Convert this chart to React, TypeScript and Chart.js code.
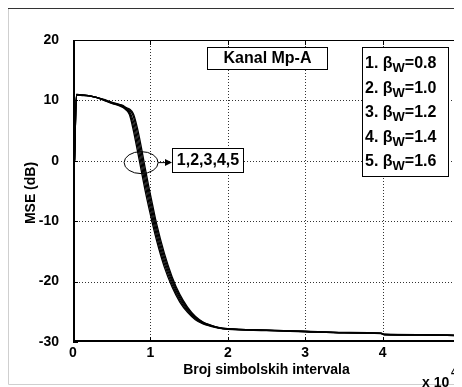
import React, { useEffect, useRef } from "react";
import { Chart, registerables } from "chart.js";

Chart.register(...registerables);

const symbolIntervals = [200, 450, 1000, 2000, 3000, 4000, 5000, 6000, 6500, 6800, 7300, 7800, 8300, 8800, 9300, 9800, 10300, 10800, 11800, 12800, 13800, 14800, 15800, 16800, 17800, 18800, 20000, 25000, 30000, 35000, 39800, 40200, 45000, 50000];

const mseBeta08 = [0, 11.0, 10.9, 10.8, 10.5, 10.0, 9.5, 9.1, 8.8, 8.5, 7.6, 5.0, 1.8, -1.5, -4.8, -7.8, -10.6, -13.2, -17.6, -20.9, -23.4, -25.1, -26.3, -27.0, -27.4, -27.7, -27.9, -28.1, -28.3, -28.5, -28.6, -28.8, -28.85, -28.95];
const mseBeta10 = [0, 11.0, 10.9, 10.8, 10.5, 10.05, 9.55, 9.16, 8.89, 8.59, 7.87, 5.78, 2.76, -0.51, -3.85, -6.93, -9.8, -12.5, -17.02, -20.47, -23.08, -24.88, -26.16, -26.92, -27.35, -27.67, -27.87, -28.08, -28.28, -28.48, -28.58, -28.78, -28.83, -28.93];
const mseBeta12 = [0, 10.95, 10.9, 10.8, 10.5, 10.1, 9.6, 9.22, 8.98, 8.68, 8.14, 6.56, 3.72, 0.48, -2.9, -6.06, -9.0, -11.8, -16.44, -20.04, -22.76, -24.66, -26.02, -26.84, -27.3, -27.64, -27.84, -28.06, -28.26, -28.46, -28.56, -28.76, -28.81, -28.91];
const mseBeta14 = [0, 10.95, 10.85, 10.75, 10.5, 10.1, 9.65, 9.28, 9.07, 8.77, 8.41, 7.34, 4.68, 1.47, -1.95, -5.19, -8.2, -11.1, -15.86, -19.61, -22.44, -24.44, -25.88, -26.76, -27.25, -27.61, -27.81, -28.04, -28.24, -28.44, -28.54, -28.74, -28.8, -28.9];
const mseBeta16 = [0, 10.9, 10.85, 10.75, 10.5, 10.15, 9.7, 9.34, 9.16, 8.86, 8.56, 7.78, 5.52, 2.44, -1.0, -4.32, -7.4, -10.4, -15.28, -19.18, -22.12, -24.22, -25.74, -26.68, -27.2, -27.58, -27.78, -28.02, -28.22, -28.42, -28.52, -28.72, -28.78, -28.88];

const seriesList = [mseBeta08, mseBeta10, mseBeta12, mseBeta14, mseBeta16];
const betaValues = ["0.8", "1.0", "1.2", "1.4", "1.6"];

const xTickValues = [0, 10000, 20000, 30000, 40000, 50000];
const xTickLabels = ["0", "1", "2", "3", "4", "5"];
const yTickValues = [-30, -20, -10, 0, 10, 20];

const channelLabel = "Kanal Mp-A";
const groupLabel = "1,2,3,4,5";
const xTitle = "Broj simbolskih intervala";
const yTitle = "MSE (dB)";
const groupMarkerX = 8800;
const groupMarkerY = -0.3;

const FONT = "'Liberation Sans', Arial, Helvetica, sans-serif";

const overlayPlugin = {
  id: "matlabOverlay",
  beforeDatasetsDraw(chart: any) {
    const { ctx, chartArea } = chart;
    const xs = chart.scales.x;
    const ys = chart.scales.y;
    const { left, right, top, bottom } = chartArea;
    ctx.save();
    ctx.strokeStyle = "#333";
    ctx.lineWidth = 1;
    ctx.setLineDash([1, 2]);
    xTickValues.slice(1, -1).forEach((v) => {
      const px = Math.round(xs.getPixelForValue(v)) + 0.5;
      ctx.beginPath();
      ctx.moveTo(px, top);
      ctx.lineTo(px, bottom);
      ctx.stroke();
    });
    yTickValues.slice(1, -1).forEach((v) => {
      const py = Math.round(ys.getPixelForValue(v)) + 0.5;
      ctx.beginPath();
      ctx.moveTo(left, py);
      ctx.lineTo(right, py);
      ctx.stroke();
    });
    ctx.restore();
  },
  afterDatasetsDraw(chart: any) {
    const { ctx, chartArea, width, height } = chart;
    const xs = chart.scales.x;
    const ys = chart.scales.y;
    const { left, right, top, bottom } = chartArea;
    ctx.save();
    ctx.setLineDash([]);

    // outer figure frame
    ctx.lineWidth = 1;
    ctx.strokeStyle = "#cfcfcf";
    ctx.beginPath();
    ctx.moveTo(0.5, 0);
    ctx.lineTo(0.5, height - 2.5);
    ctx.lineTo(width, height - 2.5);
    ctx.stroke();
    ctx.strokeStyle = "#333";
    ctx.beginPath();
    ctx.moveTo(0, 0.5);
    ctx.lineTo(width, 0.5);
    ctx.stroke();

    // axes box
    ctx.strokeStyle = "#000";
    ctx.lineWidth = 1;
    ctx.strokeRect(left + 0.5, top + 0.5, right - left - 1, bottom - top - 1);
    ctx.lineWidth = 2;
    ctx.beginPath();
    ctx.moveTo(left + 1, top);
    ctx.lineTo(left + 1, bottom - 1);
    ctx.lineTo(right, bottom - 1);
    ctx.stroke();

    // inner tick marks
    ctx.lineWidth = 1;
    xTickValues.forEach((v) => {
      const px = Math.round(xs.getPixelForValue(v)) + 0.5;
      ctx.beginPath();
      ctx.moveTo(px, bottom);
      ctx.lineTo(px, bottom - 5);
      ctx.moveTo(px, top);
      ctx.lineTo(px, top + 5);
      ctx.stroke();
    });
    yTickValues.forEach((v) => {
      const py = Math.round(ys.getPixelForValue(v)) + 0.5;
      ctx.beginPath();
      ctx.moveTo(left, py);
      ctx.lineTo(left + 5, py);
      ctx.moveTo(right, py);
      ctx.lineTo(right - 5, py);
      ctx.stroke();
    });

    // x tick labels
    ctx.fillStyle = "#000";
    ctx.font = `bold 14px ${FONT}`;
    ctx.textAlign = "center";
    ctx.textBaseline = "middle";
    xTickValues.forEach((v, i) => {
      ctx.fillText(xTickLabels[i], xs.getPixelForValue(v), bottom + 11);
    });

    // axis titles
    ctx.font = `bold 14px ${FONT}`;
    ctx.fillText(xTitle, (left + right) / 2, bottom + 28);
    ctx.save();
    ctx.translate(23, (top + bottom) / 2 + 2);
    ctx.rotate(-Math.PI / 2);
    ctx.fillText(yTitle, 0, 0);
    ctx.restore();

    // x 10^4 multiplier
    ctx.textAlign = "left";
    ctx.font = `bold 14px ${FONT}`;
    ctx.fillText("x 10", right - 38, bottom + 41);
    ctx.font = `bold 10px ${FONT}`;
    ctx.fillText("4", right - 9, bottom + 31);

    // Kanal box
    ctx.fillStyle = "#fff";
    ctx.fillRect(left + 134, top + 7, 120, 22);
    ctx.strokeStyle = "#000";
    ctx.lineWidth = 1;
    ctx.strokeRect(left + 134.5, top + 7.5, 120, 22);
    ctx.fillStyle = "#000";
    ctx.font = `bold 16px ${FONT}`;
    ctx.textAlign = "center";
    ctx.fillText(channelLabel, left + 194.5, top + 19);

    // legend box
    const lx = left + 289;
    const ly = top + 7;
    ctx.fillStyle = "#fff";
    ctx.fillRect(lx, ly, 86, 129);
    ctx.strokeRect(lx + 0.5, ly + 0.5, 86, 129);
    ctx.fillStyle = "#000";
    ctx.textAlign = "left";
    ctx.textBaseline = "alphabetic";
    betaValues.forEach((b, i) => {
      const baseY = ly + 21 + i * 24.5;
      let cx = lx + 3;
      ctx.font = `bold 16px ${FONT}`;
      const head = `${i + 1}. \u03B2`;
      ctx.fillText(head, cx, baseY);
      cx += ctx.measureText(head).width;
      ctx.font = `bold 13px ${FONT}`;
      ctx.fillText("W", cx, baseY + 4);
      cx += ctx.measureText("W").width;
      ctx.font = `bold 16px ${FONT}`;
      ctx.fillText(`=${b}`, cx, baseY);
    });

    // ellipse marker + arrow + group label
    const ex = xs.getPixelForValue(groupMarkerX);
    const ey = ys.getPixelForValue(groupMarkerY);
    ctx.lineWidth = 1;
    ctx.beginPath();
    ctx.ellipse(ex, ey, 17, 11, 0, 0, Math.PI * 2);
    ctx.stroke();
    const bx = left + 99;
    const by = top + 108;
    ctx.beginPath();
    ctx.moveTo(ex + 17, ey);
    ctx.lineTo(bx - 4, ey);
    ctx.stroke();
    ctx.beginPath();
    ctx.moveTo(bx, ey);
    ctx.lineTo(bx - 7, ey - 3.5);
    ctx.lineTo(bx - 7, ey + 3.5);
    ctx.closePath();
    ctx.fill();
    ctx.fillStyle = "#fff";
    ctx.fillRect(bx, by, 71, 24);
    ctx.strokeRect(bx + 0.5, by + 0.5, 71, 24);
    ctx.fillStyle = "#000";
    ctx.font = `bold 16px ${FONT}`;
    ctx.textAlign = "center";
    ctx.textBaseline = "middle";
    ctx.fillText(groupLabel, bx + 36, by + 13);

    ctx.restore();
  },
};

export default function App() {
  const canvasRef = useRef<HTMLCanvasElement | null>(null);

  useEffect(() => {
    if (!canvasRef.current) return;
    const chart = new Chart(canvasRef.current, {
      type: "line",
      data: {
        datasets: seriesList.map((s, k) => ({
          label: `${k + 1}. beta_W=${betaValues[k]}`,
          data: symbolIntervals.map((x, i) => ({ x, y: s[i] })),
          borderColor: "#000",
          borderWidth: 1.3,
          pointRadius: 0,
          cubicInterpolationMode: "monotone" as const,
          fill: false,
        })),
      },
      options: {
        animation: false,
        responsive: false,
        maintainAspectRatio: false,
        devicePixelRatio: 1,
        layout: { padding: { left: 0, top: 32, right: 2, bottom: 0 } },
        plugins: { legend: { display: false }, tooltip: { enabled: false } },
        scales: {
          x: {
            type: "linear",
            min: 0,
            max: 50000,
            grid: { display: false },
            border: { display: false },
            ticks: { display: false, stepSize: 10000 },
            afterFit: (scale: any) => {
              scale.height = 45;
            },
          },
          y: {
            type: "linear",
            min: -30,
            max: 20,
            grid: { display: false },
            border: { display: false },
            ticks: {
              stepSize: 10,
              padding: 6,
              color: "#000",
              font: { family: FONT, size: 14, weight: "bold" },
            },
            afterFit: (scale: any) => {
              scale.width = 65;
            },
          },
        },
      },
      plugins: [overlayPlugin],
    });
    return () => chart.destroy();
  }, []);

  return (
    <canvas
      ref={canvasRef}
      width={454}
      height={379}
      style={{ display: "block", width: 454, height: 379 }}
    />
  );
}
